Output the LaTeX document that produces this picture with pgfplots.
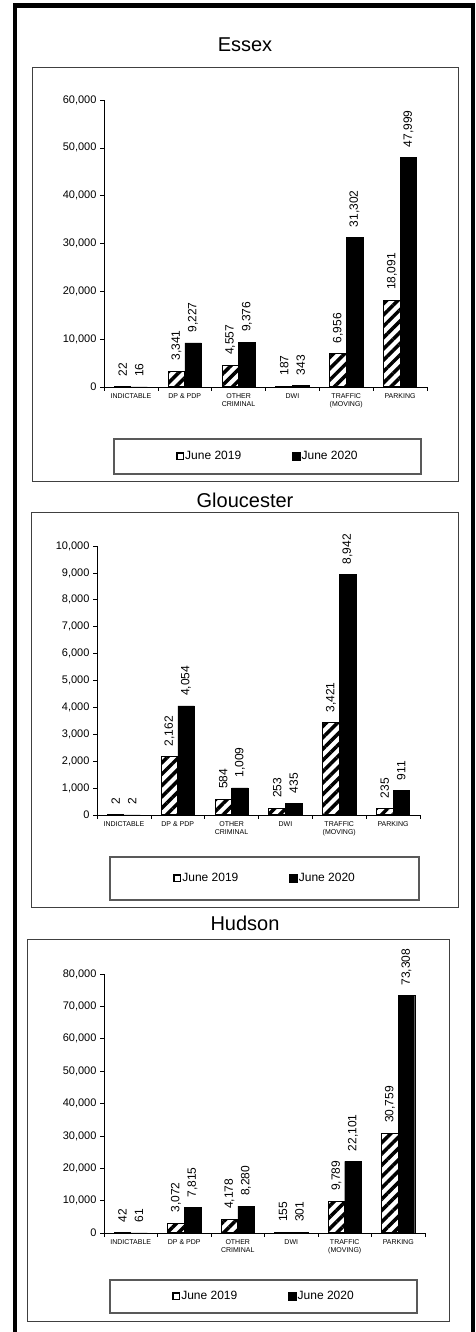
\documentclass[border=0pt]{standalone}
\usepackage{pgfplots}
\pgfplotsset{compat=1.18}
\usepackage{fontspec}
\setmainfont{Liberation Sans}
\usetikzlibrary{patterns.meta}

\pgfplotsset{
  county/.style={
    scale only axis,
    ybar, bar width=16.5pt,
    ymin=0, xmin=-0.5, xmax=5.5,
    enlarge x limits=false, enlarge y limits=false,
    axis x line*=bottom, axis y line*=left,
    axis line style={black, line width=0.8pt, -},
    xtick={0,...,5},
    xticklabels={INDICTABLE, DP \& PDP, {OTHER\\CRIMINAL}, DWI, {TRAFFIC\\(MOVING)}, PARKING},
    xticklabel style={align=center, font=\fontsize{7}{8}\selectfont, inner sep=2pt},
    major x tick style={draw=none},
    minor xtick={-0.5,0.5,...,5.5},
    minor x tick style={black, line width=0.6pt},
    minor tick length=4pt,
    tick align=outside,
    major tick length=4pt,
    ytick style={black, line width=0.6pt},
    yticklabel style={font=\fontsize{11}{13}\selectfont},
    scaled y ticks=false,
    /pgf/number format/fixed,
    /pgf/number format/1000 sep={,},
    /pgf/number format/assume math mode=true,
    nodes near coords,
    every node near coord/.append style={rotate=90, anchor=west,
      font=\fontsize{12}{14}\selectfont, inner xsep=10pt, inner ysep=0pt, black},
    legend columns=2,
    legend style={draw=none, fill=none, font=\fontsize{12}{14}\selectfont,
      anchor=center, nodes={inner xsep=1pt},
      /tikz/every even column/.append style={column sep=50pt}},
  },
  old/.style={draw=black, line width=1pt, bar shift=-8.25pt,
    pattern={Lines[angle=45,distance=8pt,line width=3.5pt]}, pattern color=black},
  new/.style={draw=black, fill=black, bar shift=8.25pt},
  oldleg/.style={legend image code/.code={\draw[black, fill=white, line width=1.6pt] (0.8pt,-3.2pt) rectangle (7.2pt,3.2pt);}},
  newleg/.style={legend image code/.code={\fill[black] (0pt,-4pt) rectangle (8pt,4pt);}},
}

\begin{document}
\begin{tikzpicture}[x=1pt,y=1pt]
\path[use as bounding box] (0,0) rectangle (476,1332);
\draw[line width=4.5pt] (15,-20) -- (15,1326.5) -- (473,1326.5) -- (473,-20);

% Essex
\node[font=\fontsize{20}{24}\selectfont] at (245,1287) {Essex};
\draw[black!75, line width=1pt] (32,1264) rectangle (458,850);
\draw[black!65, line width=1.3pt] (114,893) rectangle (421,858);
\begin{axis}[county, at={(104pt,945pt)}, anchor=south west,
  width=323pt, height=287pt, ymax=60000, ytick={0,10000,...,60000},
  legend style={at={(0.506,-0.242)}}]
\addlegendimage{oldleg}\addlegendentry{June 2019}
\addlegendimage{newleg}\addlegendentry{June 2020}
\addplot[old, forget plot] coordinates {(0,22) (1,3341) (2,4557) (3,187) (4,6956) (5,18091)};
\addplot[new, forget plot] coordinates {(0,16) (1,9227) (2,9376) (3,343) (4,31302) (5,47999)};
\end{axis}

% Gloucester
\node[font=\fontsize{20}{24}\selectfont] at (245,832) {Gloucester};
\draw[black!75, line width=1pt] (31,819) rectangle (458,424);
\draw[black!65, line width=1.3pt] (110,475) rectangle (419,432);
\begin{axis}[county, at={(97pt,517pt)}, anchor=south west,
  width=323pt, height=269pt, ymax=10000, ytick={0,1000,...,10000},
  legend style={at={(0.519,-0.236)}}]
\addlegendimage{oldleg}\addlegendentry{June 2019}
\addlegendimage{newleg}\addlegendentry{June 2020}
\addplot[old, forget plot] coordinates {(0,2) (1,2162) (2,584) (3,253) (4,3421) (5,235)};
\addplot[new, forget plot] coordinates {(0,2) (1,4054) (2,1009) (3,435) (4,8942) (5,911)};
\end{axis}

% Hudson
\node[font=\fontsize{20}{24}\selectfont] at (245,409) {Hudson};
\draw[black!75, line width=1pt] (27,392) rectangle (449,10);
\draw[black!65, line width=1.3pt] (110,52) rectangle (417,19);
\begin{axis}[county, at={(104pt,99pt)}, anchor=south west,
  width=321pt, height=259pt, ymax=80000, ytick={0,10000,...,80000},
  legend style={at={(0.497,-0.245)}}]
\addlegendimage{oldleg}\addlegendentry{June 2019}
\addlegendimage{newleg}\addlegendentry{June 2020}
\addplot[old, forget plot] coordinates {(0,42) (1,3072) (2,4178) (3,155) (4,9789) (5,30759)};
\addplot[new, forget plot] coordinates {(0,61) (1,7815) (2,8280) (3,301) (4,22101) (5,73308)};
\end{axis}
\end{tikzpicture}
\end{document}
